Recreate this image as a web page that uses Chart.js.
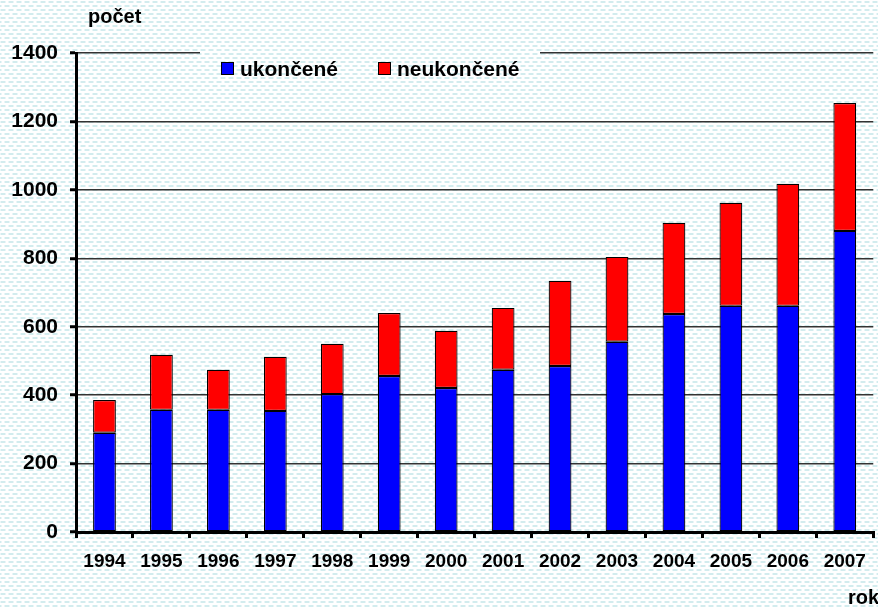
<!DOCTYPE html>
<html><head><meta charset="utf-8">
<script src="https://cdn.jsdelivr.net/npm/chart.js@4/dist/chart.umd.min.js"></script>
<style>html,body{margin:0;padding:0;background:#fff}#wrap{width:878px;height:609px;position:relative}</style>
</head><body><div id="wrap"><canvas id="c" width="878" height="609"></canvas></div>
<script>
const years = ['1994','1995','1996','1997','1998','1999','2000','2001','2002','2003','2004','2005','2006','2007'];
const ukoncene = [290,357,357,354,403,456,421,474,485,556,637,661,661,880];
const neukoncene = [96,161,117,158,147,184,167,181,249,248,267,301,357,374];
const yTicks = [0,200,400,600,800,1000,1200,1400];
const seriesNames = ['ukončené','neukončené'];
const seriesColors = ['#0000FF','#FF0000'];
const FONT = '"Liberation Sans", Arial, sans-serif';

function makePattern(ctx){
  const t = document.createElement('canvas'); t.width = 8; t.height = 8;
  const g = t.getContext('2d');
  g.fillStyle = '#ffffff'; g.fillRect(0,0,8,8);
  g.fillStyle = '#d2ecee';
  g.fillRect(1,1,4,2);
  g.fillRect(5,5,3,2); g.fillRect(0,5,1,2);
  g.fillStyle='#eaf6f7';
  g.fillRect(0,1,1,2); g.fillRect(5,1,1,2);
  g.fillRect(4,5,1,2); g.fillRect(1,5,1,2);
  return ctx.createPattern(t,'repeat');
}

const bgPlugin = {
  id:'bg',
  beforeDraw(chart){
    const ctx = chart.ctx;
    ctx.save();
    chart._pat = makePattern(ctx);
    ctx.fillStyle = chart._pat;
    ctx.fillRect(0,0,chart.width,chart.height);
    ctx.restore();
  },
  afterDraw(chart){
    const ctx = chart.ctx;
    ctx.save();
    ctx.fillStyle = chart._pat;
    ctx.fillRect(200,48,340,10);
    ctx.font = 'bold 21px ' + FONT;
    ctx.textBaseline = 'middle';
    const items = [[221,240],[378,397]];
    items.forEach((p,i)=>{
      ctx.fillStyle = seriesColors[i];
      ctx.fillRect(p[0],62,13,13);
      ctx.strokeStyle = '#000'; ctx.lineWidth = 1;
      ctx.strokeRect(p[0]+0.5,62.5,12,12);
      ctx.fillStyle = '#000';
      ctx.fillText(seriesNames[i], p[1], 70);
    });
    ctx.font = 'bold 20px ' + FONT;
    ctx.fillText('počet', 88, 17);
    ctx.textAlign = 'right';
    ctx.fillText('rok', 879, 598);
    ctx.restore();
  }
};

new Chart(document.getElementById('c'), {
  type:'bar',
  data:{
    labels: years,
    datasets:[
      {label:seriesNames[0], data:ukoncene, backgroundColor:seriesColors[0], borderColor:'#000', borderWidth:1.2, borderSkipped:false, barPercentage:0.5, categoryPercentage:0.8},
      {label:seriesNames[1], data:neukoncene, backgroundColor:seriesColors[1], borderColor:'#000', borderWidth:1.2, borderSkipped:false, barPercentage:0.5, categoryPercentage:0.8}
    ]
  },
  options:{
    responsive:false, animation:false,
    layout:{padding:{left:0,right:2,top:53,bottom:0}},
    plugins:{legend:{display:false}, tooltip:{enabled:false}},
    scales:{
      x:{
        stacked:true,
        grid:{offset:true, drawOnChartArea:false, color:'#000', lineWidth:3, tickLength:6},
        border:{color:'#000', width:3},
        ticks:{color:'#000', font:{family:FONT, size:19, weight:'bold'}, padding:12, maxRotation:0},
        afterFit(s){ s.height = 77; }
      },
      y:{
        stacked:true, min:0, max:1400,
        afterBuildTicks(s){ s.ticks = yTicks.map(v=>({value:v})); },
        grid:{color:'#333', lineWidth:1.5, tickColor:'#000', tickWidth:3, tickLength:6},
        border:{color:'#000', width:3},
        ticks:{color:'#000', font:{family:FONT, size:21, weight:'bold'}, padding:12, callback:v=>String(v)},
        afterFit(s){ s.width = 76; }
      }
    }
  },
  plugins:[bgPlugin]
});
</script></body></html>
